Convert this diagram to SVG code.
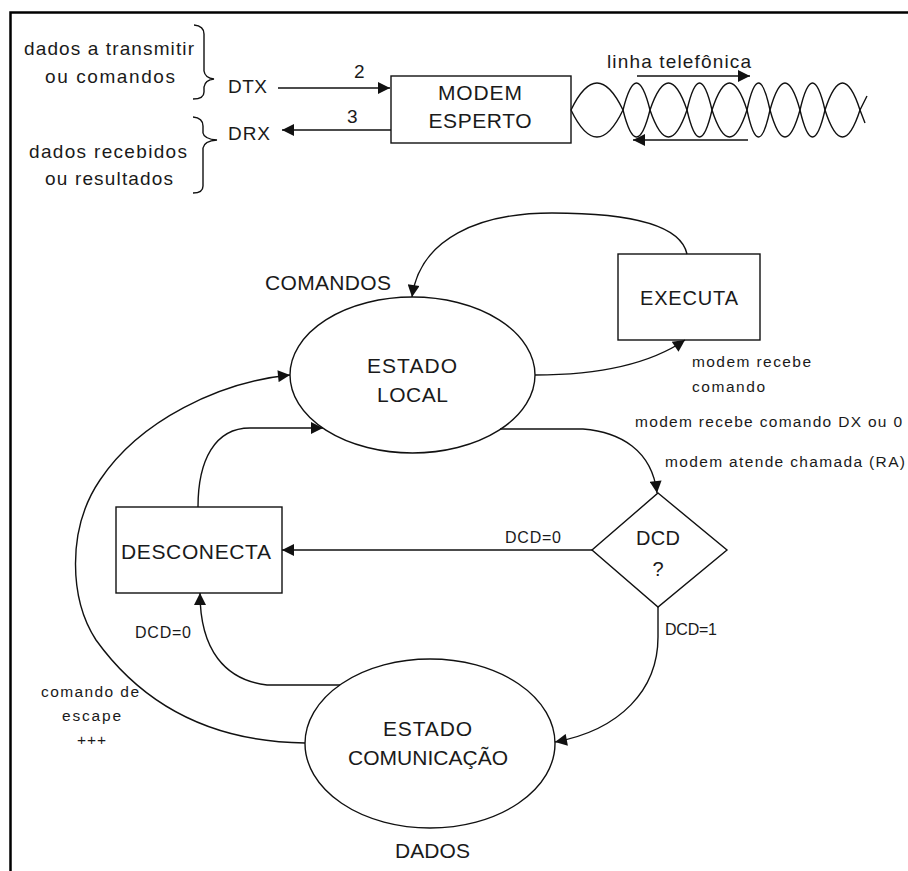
<svg xmlns="http://www.w3.org/2000/svg" width="908" height="871" viewBox="0 0 908 871">
  <defs>
    <marker id="ah" viewBox="0 0 10 10" refX="10" refY="5" markerWidth="16" markerHeight="12" markerUnits="userSpaceOnUse" orient="auto">
      <path d="M0,0 L10,5 L0,10 z" fill="#111"/>
    </marker>
    <style>
      text { font-family: "Liberation Sans", Arial, sans-serif; fill: #1a1a1a; }
      .t18 { font-size: 19px; }
      .t21 { font-size: 21px; }
      .t16 { font-size: 16px; }
      .t15 { font-size: 15.5px; }
      .mid { text-anchor: middle; }
      .shape { fill: #fff; stroke: #111; stroke-width: 1.4; }
      .line { fill: none; stroke: #111; stroke-width: 1.4; }
      .arrow { fill: none; stroke: #111; stroke-width: 1.4; marker-end: url(#ah); }
      .frame { fill: none; stroke: #000; stroke-width: 2.5; }
    </style>
  </defs>
  <rect x="0" y="0" width="908" height="871" fill="#fff"/>

  <!-- page frame (top and left edges) -->
  <path class="frame" d="M10.5,871 L10.5,12.5 L908,12.5"/>

  <!-- serial interface legend -->
  <g id="legend">
    <text class="t18" x="24" y="55" textLength="170" lengthAdjust="spacing">dados a transmitir</text>
    <text class="t18" x="45" y="83" textLength="130" lengthAdjust="spacing">ou comandos</text>
    <text class="t18" x="29" y="158" textLength="158" lengthAdjust="spacing">dados recebidos</text>
    <text class="t18" x="45" y="185" textLength="128" lengthAdjust="spacing">ou resultados</text>
    <path class="line" d="M194,25 Q204,26 204,34 L204,71 Q205,78 214,79 Q205,80 204,87 L204,92 Q204,99 193,99"/>
    <path class="line" d="M193,117 Q203,118 203,126 L203,133 Q204,139 217,140 Q204,141 203,148 L203,186 Q203,193 193,193"/>
    <text class="t18" x="228" y="93" textLength="39" lengthAdjust="spacing">DTX</text>
    <text class="t18" x="228" y="140" textLength="42" lengthAdjust="spacing">DRX</text>
    <text class="t18" x="354" y="78">2</text>
    <text class="t18" x="347" y="123">3</text>
  </g>

  <g id="modem">
    <rect class="shape" x="391" y="76" width="180" height="67"/>
    <text class="t21 mid" x="480" y="100" textLength="84" lengthAdjust="spacing">MODEM</text>
    <text class="t21 mid" x="480" y="128" textLength="103" lengthAdjust="spacing">ESPERTO</text>
  </g>

  <!-- twisted pair telephone line -->
  <g id="linha">
    <path class="line" d="M571,110 Q597,56 623,110 Q636.5,164 650,110 Q668.5,56 687,110 Q699.5,164 712,110 Q729.5,56 747,110 Q758.5,164 770,110 Q785,56 800,110 Q812.5,164 825,110 Q842.5,56 860,110 L867,96"/>
    <path class="line" d="M571,110 Q597,164 623,110 Q636.5,56 650,110 Q668.5,164 687,110 Q699.5,56 712,110 Q729.5,164 747,110 Q758.5,56 770,110 Q785,164 800,110 Q812.5,56 825,110 Q842.5,164 860,110 L865,123"/>
    <text x="607" y="68" textLength="144" lengthAdjust="spacing" style="font-size:19px">linha telefônica</text>
  </g>

  <g id="executa">
    <rect class="shape" x="618" y="254" width="142" height="86"/>
    <text class="mid" x="689" y="305" textLength="98" lengthAdjust="spacing" style="font-size:20px">EXECUTA</text>
  </g>

  <g id="estado-local">
    <ellipse class="shape" cx="412.5" cy="375" rx="122.5" ry="78"/>
    <text class="t21 mid" x="412" y="373" textLength="90" lengthAdjust="spacing">ESTADO</text>
    <text class="t21 mid" x="412.5" y="402" textLength="71" lengthAdjust="spacing">LOCAL</text>
  </g>

  <g id="dcd">
    <path class="shape" d="M658,493 L727,550 L658,607 L592,550 Z"/>
    <text class="mid" x="658" y="545" textLength="44" lengthAdjust="spacing" style="font-size:20px">DCD</text>
    <text class="mid" x="658" y="576" style="font-size:20px">?</text>
  </g>

  <g id="desconecta">
    <rect class="shape" x="116" y="507" width="166" height="86"/>
    <text class="t21" x="121" y="559" textLength="150" lengthAdjust="spacing">DESCONECTA</text>
  </g>

  <g id="estado-comunicacao">
    <ellipse class="shape" cx="430" cy="743.5" rx="125" ry="84.5"/>
    <text class="t21 mid" x="427.5" y="736" textLength="89" lengthAdjust="spacing">ESTADO</text>
    <text class="t21 mid" x="428" y="765" textLength="160" lengthAdjust="spacing">COMUNICAÇÃO</text>
  </g>

  <!-- connectors -->
  <g id="connectors">
    <path class="arrow" d="M278,88 L390,88"/>
    <path class="arrow" d="M391,130 L282,130"/>
    <path class="arrow" d="M637,76 L750,76"/>
    <path class="arrow" d="M748,140 L633,140"/>
    <path class="arrow" d="M687,254 C680,222 620,213 552,213 C480,213 420,238 412,297"/>
    <path class="arrow" d="M535,375 C600,375 650,364 685,340"/>
    <path class="arrow" d="M500,429 L583,429 C620,432 652,450 657,493"/>
    <path class="arrow" d="M592,550 L282,550"/>
    <path class="arrow" d="M658,607 L658,637 C658,690 620,730 555,742"/>
    <path class="arrow" d="M340,685 L267,685 C225,680 200,650 200,593"/>
    <path class="arrow" d="M198,507 C198,460 215,428 250,428 L323,428"/>
    <path class="arrow" d="M305,743 C225,742 150,715 96,640 C70,600 66,530 100,480 C140,420 220,382 290,375"/>
  </g>

  <!-- transition labels -->
  <g id="labels">
    <text class="t21" x="265" y="290" textLength="126" lengthAdjust="spacing">COMANDOS</text>
    <text class="t15" x="692" y="367" textLength="119" lengthAdjust="spacing">modem recebe</text>
    <text class="t15" x="692" y="392" textLength="73" lengthAdjust="spacing">comando</text>
    <text class="t15" x="635" y="427" textLength="267" lengthAdjust="spacing">modem recebe comando DX ou 0</text>
    <text class="t15" x="665" y="467" textLength="240" lengthAdjust="spacing">modem atende chamada (RA)</text>
    <text class="t16" x="505" y="543" textLength="56" lengthAdjust="spacing">DCD=0</text>
    <text class="t16" x="135" y="638" textLength="56" lengthAdjust="spacing">DCD=0</text>
    <text class="t16" x="665" y="635" textLength="52" lengthAdjust="spacing">DCD=1</text>
    <text class="t15" x="41" y="697" textLength="98" lengthAdjust="spacing">comando de</text>
    <text class="t15" x="62" y="721" textLength="59" lengthAdjust="spacing">escape</text>
    <text class="t15" x="77" y="745" textLength="29" lengthAdjust="spacing">+++</text>
    <text class="t21" x="395" y="858" textLength="75" lengthAdjust="spacing">DADOS</text>
  </g>
</svg>
